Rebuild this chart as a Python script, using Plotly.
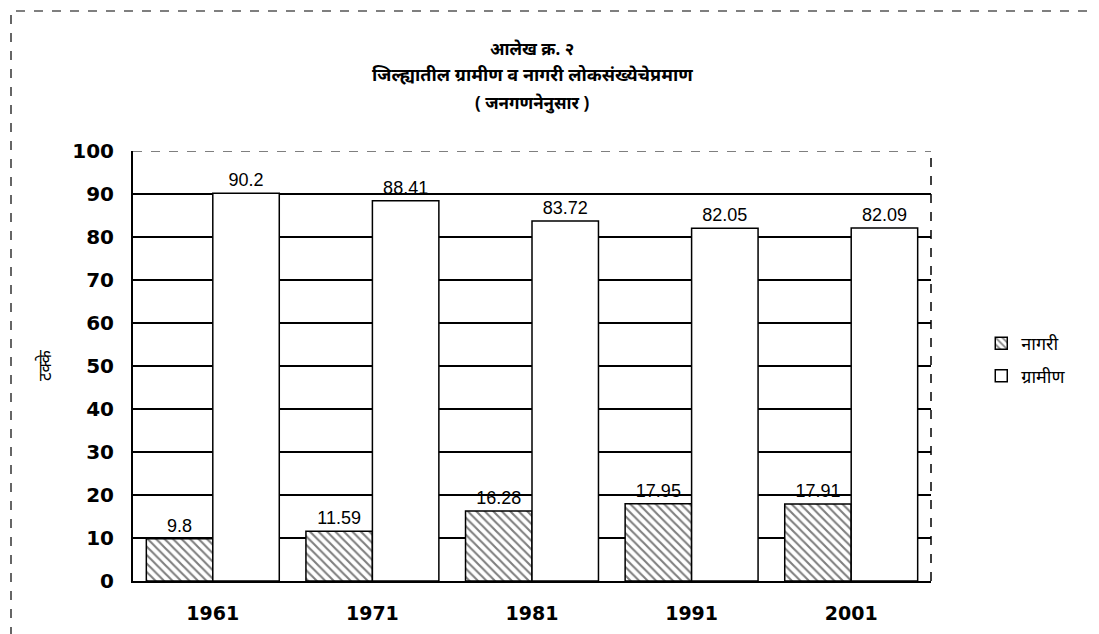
import plotly.graph_objects as go

years = ["1961", "1971", "1981", "1991", "2001"]
urban = [9.8, 11.59, 16.28, 17.95, 17.91]
rural = [90.2, 88.41, 83.72, 82.05, 82.09]
urban_labels = ["9.8", "11.59", "16.28", "17.95", "17.91"]
rural_labels = ["90.2", "88.41", "83.72", "82.05", "82.09"]
y_ticks = [0, 10, 20, 30, 40, 50, 60, 70, 80, 90, 100]

title_lines = ["आलेख क्र. २", "जिल्ह्यातील ग्रामीण व नागरी लोकसंख्येचेप्रमाण", "( जनगणनेनुसार )"]
y_title = "टक्के"
urban_name = "नागरी"
rural_name = "ग्रामीण"

W, H = 1099, 634
L, R, T, B = 125, 176, 143, 61

fig = go.Figure()
fig.add_trace(go.Bar(
    x=years, y=urban, name=urban_name, legendgroup="u",
    text=urban_labels, textposition="outside",
    textfont=dict(family="Liberation Sans, Arial, sans-serif", size=18, color="black"),
    marker=dict(color="white", line=dict(color="black", width=1.5),
                pattern=dict(shape="\\", fgcolor="black", bgcolor="white", size=6, solidity=0.35)),
    cliponaxis=False,
))
fig.add_trace(go.Bar(
    x=years, y=rural, name=rural_name, legendgroup="r",
    text=rural_labels, textposition="outside",
    textfont=dict(family="Liberation Sans, Arial, sans-serif", size=18, color="black"),
    marker=dict(color="white", line=dict(color="black", width=1.5)),
    cliponaxis=False,
))

fig.update_layout(
    width=W, height=H,
    margin=dict(l=L, r=R, t=T, b=B),
    paper_bgcolor="white", plot_bgcolor="white",
    barmode="group", bargap=0.167, bargroupgap=0,
    showlegend=True,
    legend=dict(x=1.063, y=0.595, xanchor="left", yanchor="top",
                font=dict(family="Noto Sans, sans-serif", size=18, color="black"),
                bgcolor="rgba(0,0,0,0)", tracegroupgap=6),
    font=dict(family="Liberation Sans, Arial, sans-serif", color="black"),
)
fig.update_xaxes(
    showline=True, linecolor="black", linewidth=2,
    showgrid=False, ticks="",
    tickfont=dict(family="DejaVu Sans, sans-serif", size=19, color="black", weight="bold"),
    ticklabelstandoff=14,
)
fig.update_yaxes(
    range=[0, 100], tickvals=y_ticks,
    showline=True, linecolor="black", linewidth=2,
    showgrid=True, gridcolor="black", gridwidth=1.5,
    zeroline=False, ticks="",
    tickfont=dict(family="DejaVu Sans, sans-serif", size=20, color="black", weight="bold"),
    ticklabelstandoff=13,
)

# top line dashed, right edge dashed
fig.add_shape(type="line", xref="paper", yref="y", x0=0, x1=1, y0=100, y1=100,
              line=dict(color="white", width=3), layer="above")
fig.add_shape(type="line", xref="paper", yref="y", x0=0, x1=1, y0=100, y1=100,
              line=dict(color="black", width=1.2, dash="dash"), layer="above")
fig.add_shape(type="line", xref="paper", yref="y", x0=1, x1=1, y0=0, y1=100.8,
              line=dict(color="black", width=1.5, dash="dash"), layer="above")

# scanned page frame
pw, ph = W - L - R, H - T - B
fig.add_shape(type="rect", xref="paper", yref="paper",
              x0=(3 - L) / pw, x1=(1091 - L) / pw,
              y0=(H - 631 - B) / ph, y1=(H - 3 - B) / ph,
              line=dict(color="black", width=1.2, dash="dash"), layer="above")

title_y = [41, 66, 94]
title_sizes = [17, 18, 17]
for txt, yy, fs in zip(title_lines, title_y, title_sizes):
    fig.add_annotation(text="<b>" + txt + "</b>", xref="paper", yref="paper",
                       x=0.5, y=(H - yy - B) / ph, showarrow=False,
                       xanchor="center", yanchor="middle",
                       font=dict(family="Noto Sans, sans-serif", size=fs, color="black"))

fig.add_annotation(text=y_title, xref="paper", yref="paper",
                   x=(36 - L) / pw, y=(H - 357 - B) / ph, showarrow=False,
                   textangle=-90, xanchor="center", yanchor="middle",
                   font=dict(family="Noto Sans, sans-serif", size=17, color="black"))

fig.write_html("out.html")
